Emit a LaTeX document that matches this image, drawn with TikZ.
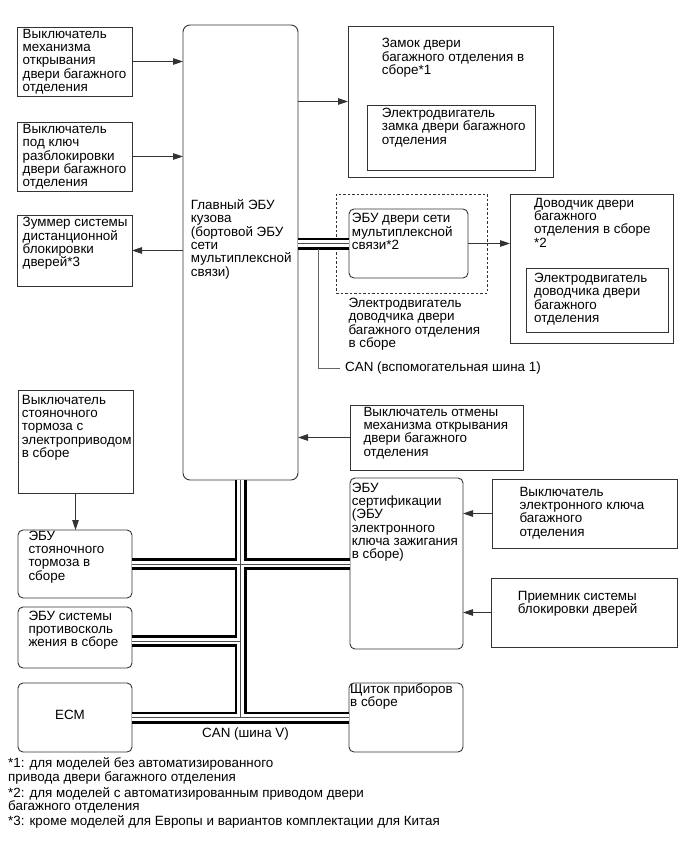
\documentclass[tikz,border=0pt]{standalone}
\usepackage{fontspec}
\setmainfont{Liberation Sans}
\usetikzlibrary{arrows.meta}
\begin{document}
\begin{tikzpicture}[x=1pt,y=-1pt,
  box/.style={draw=black!80, line width=0.9pt, inner sep=0pt, outer sep=0pt, anchor=north west},
  rbox/.style={box, rounded corners=5pt},
  dbox/.style={box, dash pattern=on 2.5pt off 2pt},
  txt/.style={anchor=base west, inner sep=0pt, align=left, font=\fontsize{13.4}{13.35}\selectfont},
  conn/.style={draw=black!80, line width=0.9pt},
  arr/.style={conn, -{Triangle[length=10pt,width=6.5pt]}},
  busA/.style={line width=12pt, black},
  busB/.style={line width=6.5pt, white},
  busC/.style={line width=0.8pt, black!70},
  lead/.style={draw=black!60, line width=0.9pt},
]
\useasboundingbox (0,0) rectangle (689,853);

% boxes
\node[box, minimum width=115pt, minimum height=69pt] (b1) at (17,27) {};
\node[box, minimum width=115pt, minimum height=69pt] (b2) at (17,122) {};
\node[box, minimum width=115pt, minimum height=71pt] (b3) at (17,215) {};
\node[rbox, rounded corners=7pt, minimum width=115pt, minimum height=455pt] (main) at (183,25) {};
\node[box, minimum width=205pt, minimum height=151pt] (zamok) at (348,26) {};
\node[box, minimum width=168pt, minimum height=65pt] (zamokin) at (367,105) {};
\node[dbox, minimum width=151pt, minimum height=99pt] (dashbox) at (336,194) {};
\node[rbox, minimum width=119pt, minimum height=69pt] (doorecu) at (349,209) {};
\node[box, minimum width=163pt, minimum height=149pt] (dovod) at (510,194) {};
\node[box, minimum width=142pt, minimum height=64pt] (dovodin) at (526,268) {};
\node[box, minimum width=173pt, minimum height=65pt] (otmena) at (350,405) {};
\node[box, minimum width=115pt, minimum height=103pt] (pswitch) at (18,390) {};
\node[rbox, minimum width=114pt, minimum height=68pt] (pecu) at (18,530) {};
\node[rbox, minimum width=114pt, minimum height=61pt] (abs) at (18,607) {};
\node[rbox, minimum width=114pt, minimum height=69pt] (ecm) at (18,683) {};
\node[rbox, minimum width=113pt, minimum height=171pt] (cert) at (350,478) {};
\node[box, minimum width=185pt, minimum height=69pt] (keysw) at (492,479) {};
\node[box, minimum width=186pt, minimum height=69pt] (recv) at (491,578) {};
\node[rbox, minimum width=114pt, minimum height=69pt] (gauge) at (349,683) {};

% texts (anchor = baseline of the LAST line)
\node[txt] (t-b1) at (22.5,91.7) {Выключатель\\механизма\\открывания\\двери багажного\\отделения};
\node[txt] (t-b2) at (22.5,186.7) {Выключатель\\под ключ\\разблокировки\\двери багажного\\отделения};
\node[txt] (t-b3) at (22.5,266.75) {Зуммер системы\\дистанционной\\блокировки\\дверей*3};
\node[txt] (t-main) at (190.7,276.05) {Главный ЭБУ\\кузова\\(бортовой ЭБУ\\сети\\мультиплексной\\связи)};
\node[txt] (t-zamok) at (381.7,74.4) {Замок двери\\багажного отделения в\\сборе*1};
\node[txt] (t-zamokin) at (381.7,144.2) {Электродвигатель\\замка двери багажного\\отделения};
\node[txt] (t-doorecu) at (351.7,249.4) {ЭБУ двери сети\\мультиплексной\\связи*2};
\node[txt] (t-dovod) at (534,247.05) {Доводчик двери\\багажного\\отделения в сборе\\*2};
\node[txt] (t-dovodin) at (534,322.55) {Электродвигатель\\доводчика двери\\багажного\\отделения};
\node[txt] (t-label) at (348.3,347.55) {Электродвигатель\\доводчика двери\\багажного отделения\\в сборе};
\node[txt] (canaux) at (345,371.5) {CAN (вспомогательная шина 1)};
\node[txt] (t-otmena) at (363.3,456.05) {Выключатель отмены\\механизма открывания\\двери багажного\\отделения};
\node[txt] (t-pswitch) at (21.7,457.4) {Выключатель\\стояночного\\тормоза с\\электроприводом\\в сборе};
\node[txt] (t-pecu) at (28.3,580.05) {ЭБУ\\стояночного\\тормоза в\\сборе};
\node[txt] (t-abs) at (28.3,646.7) {ЭБУ системы\\противосколь\\жения в сборе};
\node[txt, anchor=base] (t-ecm) at (70,719) {ECM};
\node[txt] (t-cert) at (351.7,558.75) {ЭБУ\\сертификации\\(ЭБУ\\электронного\\ключа зажигания\\в сборе)};
\node[txt] (t-keysw) at (519.3,536.05) {Выключатель\\электронного ключа\\багажного\\отделения};
\node[txt] (t-recv) at (517.7,613.35) {Приемник системы\\блокировки дверей};
\node[txt] (t-gauge) at (350,706.35) {Щиток приборов\\в сборе};
\node[txt] (canv) at (202,737) {CAN (шина V)};
\node[txt] (fn1) at (8,781) {*1: для моделей без автоматизированного\\привода двери багажного отделения};
\node[txt] (fn2) at (8,810.5) {*2: для моделей с автоматизированным приводом двери\\багажного отделения};
\node[txt] (fn3) at (8,825) {*3: кроме моделей для Европы и вариантов комплектации для Китая};

% arrows
\draw[arr] (b1.east) -- (main.west |- b1.east);
\draw[arr] (b2.east) -- (main.west |- b2.east);
\draw[arr] (main.west |- b3.east) -- (b3.east);
\draw[arr] (main.east |- zamok.west) -- (zamok.west);
\draw[arr] (doorecu.east) -- (dovod.west |- doorecu.east);
\draw[arr] (otmena.west) -- (main.east |- otmena.west);
\draw[arr] (pswitch.south) -- (pswitch.south |- pecu.north);
\draw[arr] (keysw.west) -- (cert.east |- keysw.west);
\draw[arr] (recv.west) -- (cert.east |- recv.west);

% bus coordinates
\coordinate (j2) at (240.5,641);
\coordinate (cantap) at (318,249);

% buses: black, then white, then thin middle
\foreach \s in {busA,busB,busC}{
  \draw[\s] (main.east |- doorecu.west) -- (doorecu.west);
  \draw[\s] (main.south) -- (main.south |- ecm.east);
  \draw[\s] (pecu.east) -- (cert.west |- pecu.east);
  \draw[\s] (abs.east |- j2) -- (j2);
  \draw[\s] (ecm.east) -- (gauge.west);
}

% CAN aux leader
\draw[lead] (cantap) |- ([xshift=-5pt]canaux.west);
\end{tikzpicture}
\end{document}
